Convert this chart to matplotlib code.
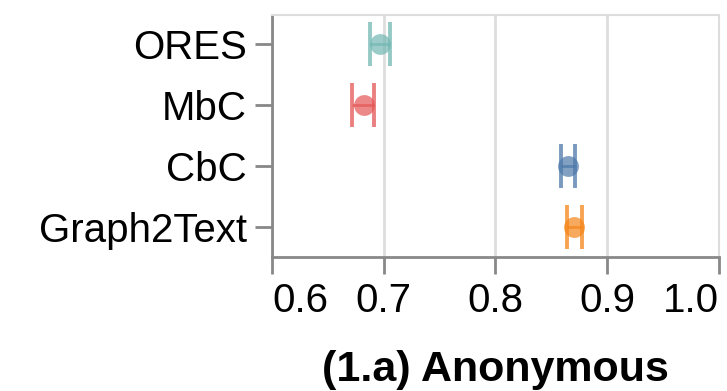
import matplotlib
matplotlib.use("Agg")
import matplotlib.pyplot as plt
import numpy as np

plt.rcParams['font.family'] = ['Liberation Sans', 'DejaVu Sans']

categories = ["ORES", "MbC", "CbC", "Graph2Text"]
means = [0.697, 0.682, 0.865, 0.870]
lower = [0.688, 0.672, 0.859, 0.864]
upper = [0.706, 0.691, 0.871, 0.877]
colors = ["#72b7b2", "#e45756", "#4c78a8", "#f58518"]
xticks = [0.6, 0.7, 0.8, 0.9, 1.0]
title = "(1.a) Anonymous"

fig = plt.figure(figsize=(7.27, 3.91), dpi=100)
ax = fig.add_axes([0.374, 0.343, 0.615, 0.619])

for i, (m, lo, hi, c) in enumerate(zip(means, lower, upper, colors)):
    ax.plot([lo, hi], [i, i], color=c, lw=2, alpha=0.7, solid_capstyle='butt', zorder=3)
    for v in (lo, hi):
        ax.plot([v, v], [i - 0.36, i + 0.36], color=c, lw=2.8, alpha=0.75,
                solid_capstyle='butt', zorder=3)
    ax.plot([m], [i], 'o', color=c, markersize=15, alpha=0.7, markeredgewidth=0, zorder=4)

ax.set_xlim(0.6, 1.0)
ax.set_ylim(3.49, -0.48)
ax.set_xticks(xticks)
ax.set_xticklabels([f"{t:.1f}" for t in xticks])
ax.set_yticks(range(len(categories)))
ax.set_yticklabels(categories)

ax.grid(axis='x', color='#dddddd', lw=2)
ax.set_axisbelow(True)
for s in ['top', 'right']:
    ax.spines[s].set_color('#dddddd')
    ax.spines[s].set_linewidth(1.5)
for s in ['left', 'bottom']:
    ax.spines[s].set_color('#888888')
    ax.spines[s].set_linewidth(2)
ax.tick_params(axis='both', colors='#888888', width=2, length=12, labelsize=29,
               labelcolor='black', pad=6)
labels = ax.get_xticklabels()
labels[0].set_horizontalalignment('left')
labels[-1].set_horizontalalignment('right')
ax.set_xlabel(title, fontsize=31, fontweight='bold', labelpad=22)

fig.savefig("out.png", dpi=100)
